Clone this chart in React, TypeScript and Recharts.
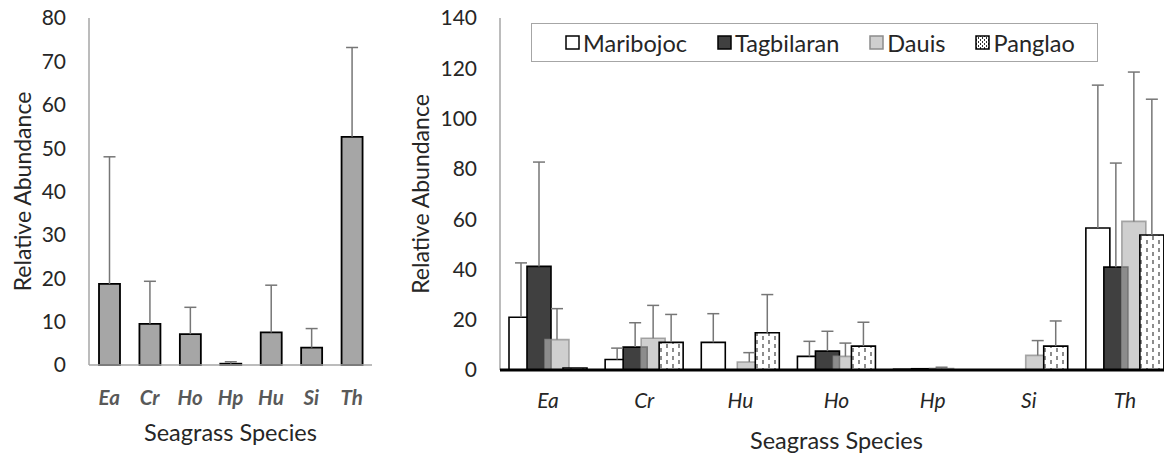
import React from "react";
import { BarChart, Bar, XAxis, YAxis, ErrorBar, Legend } from "recharts";

// left panel: pooled mean per species
const leftSpecies = ["Ea", "Cr", "Ho", "Hp", "Hu", "Si", "Th"];
const leftMean = [18.7, 9.5, 7.1, 0.3, 7.5, 4.0, 52.6];
const leftErr = [29.3, 9.8, 6.2, 0.45, 10.9, 4.4, 20.6];
const leftTicks = [0, 10, 20, 30, 40, 50, 60, 70, 80];

// right panel: per site
const species = ["Ea", "Cr", "Hu", "Ho", "Hp", "Si", "Th"];
const sites = ["Maribojoc", "Tagbilaran", "Dauis", "Panglao"];
const maribojoc = [21.0, 4.2, 11.0, 5.4, 0.3, 0, 56.5];
const maribojocErr = [21.6, 4.5, 11.4, 6.0, null, null, 56.8];
const tagbilaran = [41.2, 9.1, 0, 7.5, 0.5, 0, 40.9];
const tagbilaranErr = [41.5, 9.7, null, 7.9, null, null, 41.4];
const dauis = [12.1, 12.6, 3.2, 5.4, 0.6, 5.8, 59.1];
const dauisErr = [12.3, 13.1, 3.7, 5.3, 0.5, 5.9, 59.4];
const panglao = [0.8, 11.0, 14.8, 9.5, 0, 9.5, 53.7];
const panglaoErr = [null, 11.1, 15.2, 9.5, null, 10.0, 54.0];
const rightTicks = [0, 20, 40, 60, 80, 100, 120, 140];

const leftData = leftSpecies.map((name, i) => ({
  name,
  value: leftMean[i],
  err: leftErr[i],
}));

const siteValues = [maribojoc, tagbilaran, dauis, panglao];
const siteErrs = [maribojocErr, tagbilaranErr, dauisErr, panglaoErr];

const rightData = species.map((name, i) => {
  const row: Record<string, string | number | null> = { name };
  sites.forEach((s, k) => {
    row[s] = siteValues[k][i];
    row[s + "Err"] = siteErrs[k][i];
  });
  return row;
});

const FONT = "Lato, 'DejaVu Sans', sans-serif";
const TEXT = "#262626";
const AXIS_GRAY = "#a6a6a6";
const ERR_GRAY = "#767676";

const siteStyle: Record<string, { fill: string; stroke: string; fillOpacity?: number; strokeOpacity?: number }> = {
  Maribojoc: { fill: "#ffffff", stroke: "#000000" },
  Tagbilaran: { fill: "#404040", stroke: "#000000" },
  Dauis: { fill: "#b6b6b6", stroke: "#8c8c8c", fillOpacity: 0.65, strokeOpacity: 0.75 },
  Panglao: { fill: "url(#dashPattern)", stroke: "#000000" },
};

// only the upper error is drawn, like the original
const upOnly = (key: string) => (d: any) => (d[key] == null ? null : [0, d[key]]);

const YTitle = (props: any) => {
  const { viewBox, dx } = props;
  const cx = viewBox.x + dx;
  const cy = viewBox.y + viewBox.height / 2;
  return (
    <text
      x={cx}
      y={cy}
      transform={`rotate(-90 ${cx} ${cy})`}
      textAnchor="middle"
      dominantBaseline="central"
      fontSize={23}
      fill={TEXT}
      fontFamily={FONT}
    >
      Relative Abundance
    </text>
  );
};

const XTitle = (props: any) => {
  const { viewBox, bottom } = props;
  const cx = viewBox.x + viewBox.width / 2;
  const cy = viewBox.y + viewBox.height - bottom;
  return (
    <text x={cx} y={cy} textAnchor="middle" fontSize={23.5} fill={TEXT} fontFamily={FONT}>
      Seagrass Species
    </text>
  );
};

const Swatch = ({ name }: { name: string }) => {
  const st = siteStyle[name];
  return (
    <svg width={15} height={15} style={{ display: "block" }}>
      <defs>
        <pattern id="legendDash" patternUnits="userSpaceOnUse" width={4} height={4}>
          <rect width={4} height={4} fill="#fff" />
          <line x1={1.5} y1={0} x2={1.5} y2={2} stroke="#333" strokeWidth={1} />
          <line x1={3.5} y1={2} x2={3.5} y2={4} stroke="#333" strokeWidth={1} />
        </pattern>
      </defs>
      <rect
        x={1}
        y={1}
        width={13}
        height={13}
        fill={name === "Panglao" ? "url(#legendDash)" : st.fill}
        fillOpacity={st.fillOpacity}
        stroke={st.stroke}
        strokeWidth={1.5}
      />
    </svg>
  );
};

// keep the series order (Recharts would sort the items by name)
const renderLegend = () => (
  <div
    style={{
      display: "flex",
      justifyContent: "flex-start",
      alignItems: "center",
      gap: 30,
      height: "100%",
      paddingLeft: 33,
    }}
  >
    {sites.map((s) => (
      <div key={s} style={{ display: "flex", alignItems: "center" }}>
        <Swatch name={s} />
        <span style={{ marginLeft: 3, fontSize: 23.5, color: TEXT, fontFamily: FONT }}>{s}</span>
      </div>
    ))}
  </div>
);

export default function App() {
  return (
    <div
      style={{
        position: "absolute",
        left: 0,
        top: 0,
        width: 1164,
        height: 453,
        overflow: "hidden",
        background: "#fff",
        fontFamily: FONT,
      }}
    >
      <style>{`.upOnly .recharts-errorBar line:nth-of-type(3){display:none}`}</style>

      {/* Left panel */}
      <div className="upOnly" style={{ position: "absolute", left: 0, top: 0 }}>
        <BarChart
          width={400}
          height={453}
          data={leftData}
          barSize={21}
          margin={{ top: 18, right: 28, left: 0, bottom: 0 }}
        >
          <YAxis
            width={89}
            domain={[0, 80]}
            ticks={leftTicks}
            interval={0}
            tickSize={0}
            tickMargin={23}
            axisLine={{ stroke: AXIS_GRAY, strokeWidth: 1.5 }}
            tickLine={false}
            tick={{ fontSize: 21, fill: TEXT }}
            label={{ content: <YTitle dx={22} /> }}
          />
          <Bar
            dataKey="value"
            fill="#a6a6a6"
            stroke="#000"
            strokeWidth={1.8}
            isAnimationActive={false}
          >
            <ErrorBar
              dataKey={upOnly("err")}
              direction="y"
              width={6}
              stroke={ERR_GRAY}
              strokeWidth={1.5}
              isAnimationActive={false}
            />
          </Bar>
          <XAxis
            dataKey="name"
            height={88}
            interval={0}
            tickSize={0}
            tickMargin={25}
            axisLine={{ stroke: AXIS_GRAY, strokeWidth: 1.5 }}
            tickLine={false}
            tick={{ fontSize: 20.5, fill: "#595959", fontWeight: 700, fontStyle: "italic" }}
            label={{ content: <XTitle bottom={12} /> }}
          />
        </BarChart>
      </div>

      {/* Right panel */}
      <div className="upOnly" style={{ position: "absolute", left: 400, top: 0 }}>
        <BarChart
          width={790}
          height={453}
          data={rightData}
          barSize={24}
          barGap={-6}
          margin={{ top: 18, right: 17, left: 0, bottom: 0 }}
        >
          <defs>
            <pattern id="dashPattern" patternUnits="userSpaceOnUse" width={12} height={8}>
              <rect width={12} height={8} fill="#fff" />
              <line x1={3} y1={0} x2={3} y2={4} stroke="#404040" strokeWidth={1.2} />
              <line x1={9} y1={4} x2={9} y2={8} stroke="#404040" strokeWidth={1.2} />
            </pattern>
          </defs>
          <YAxis
            width={100}
            domain={[0, 140]}
            ticks={rightTicks}
            interval={0}
            tickSize={0}
            tickMargin={23}
            axisLine={{ stroke: AXIS_GRAY, strokeWidth: 1.5 }}
            tickLine={false}
            tick={{ fontSize: 21, fill: TEXT }}
            label={{ content: <YTitle dx={20} /> }}
          />
          {sites.map((s) => (
            <Bar
              key={s}
              dataKey={s}
              name={s}
              fill={siteStyle[s].fill}
              fillOpacity={siteStyle[s].fillOpacity}
              stroke={siteStyle[s].stroke}
              strokeOpacity={siteStyle[s].strokeOpacity}
              strokeWidth={1.6}
              isAnimationActive={false}
            >
              <ErrorBar
                dataKey={upOnly(s + "Err")}
                direction="y"
                width={6}
                stroke={ERR_GRAY}
                strokeWidth={1.5}
                isAnimationActive={false}
              />
            </Bar>
          ))}
          <XAxis
            dataKey="name"
            height={83}
            interval={0}
            tickSize={0}
            tickMargin={23}
            axisLine={{ stroke: "#000", strokeWidth: 3 }}
            tickLine={false}
            tick={{ fontSize: 21, fill: TEXT, fontStyle: "italic" }}
            label={{ content: <XTitle bottom={4} /> }}
          />
          <Legend
            layout="horizontal"
            verticalAlign="middle"
            align="center"
            content={renderLegend}
            wrapperStyle={{
              left: 131,
              top: 23,
              width: 567,
              height: 39,
              border: `1.5px solid ${AXIS_GRAY}`,
              boxSizing: "border-box",
              background: "#fff",
            }}
          />
        </BarChart>
      </div>
    </div>
  );
}
